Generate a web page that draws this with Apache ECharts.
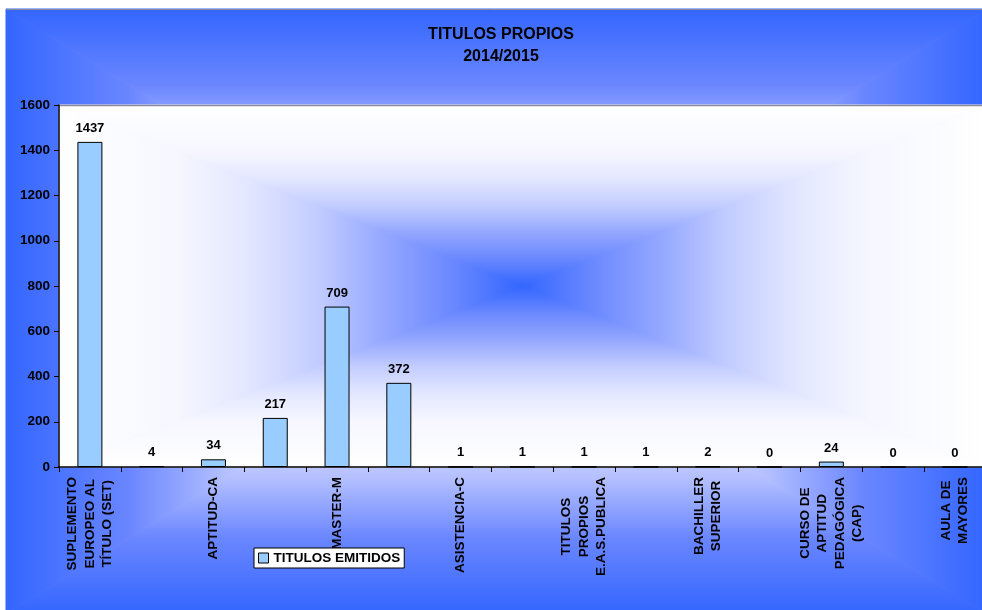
<!DOCTYPE html>
<html><head><meta charset="utf-8">
<script src="https://cdn.jsdelivr.net/npm/echarts@6/dist/echarts.min.js"></script>
<style>html,body{margin:0;padding:0;background:#fff}#c{width:982px;height:610px}</style>
</head><body><div id="c"></div>
<script>
// ---- data ----
const categories = ['SUPLEMENTO\nEUROPEO AL\nTÍTULO (SET)', '', 'APTITUD-CA', '', 'MASTER-M', '', 'ASISTENCIA-C', '',
  'TITULOS\nPROPIOS\nE.A.S.PUBLICA', '', 'BACHILLER\nSUPERIOR', '', 'CURSO DE\nAPTITUD\nPEDAGÓGICA\n(CAP)', '', 'AULA DE\nMAYORES'];
const values = [1437, 4, 34, 217, 709, 372, 1, 1, 1, 1, 2, 0, 24, 0, 0];
const seriesName = 'TITULOS EMITIDOS';
const titleText = 'TITULOS PROPIOS\n2014/2015';
const yMin = 0, yMax = 1600, yStep = 200;

// ---- layout ----
const W = 982, H = 610;
const G = {x0: 59, y0: 105, x1: 985.8, y1: 467};
const OUT = {x0: 6, y0: 9, x1: 986, y1: 614};
const FONT = '"Liberation Sans", Arial, sans-serif';

function rectGrad(r, stops, z) {
  const cx = (r.x0 + r.x1) / 2, cy = (r.y0 + r.y1) / 2;
  const mk = (pts, a, b, c, d) => {
    const g = new echarts.graphic.LinearGradient(a, b, c, d, stops, true);
    return {type: 'polygon', silent: true, z: z, shape: {points: pts},
      style: {fill: g, stroke: g, lineWidth: 1}};
  };
  return [
    mk([[r.x0, r.y0], [r.x1, r.y0], [cx, cy]], 0, r.y0, 0, cy),
    mk([[r.x0, r.y1], [r.x1, r.y1], [cx, cy]], 0, r.y1, 0, cy),
    mk([[r.x0, r.y0], [r.x0, r.y1], [cx, cy]], r.x0, 0, cx, 0),
    mk([[r.x1, r.y0], [r.x1, r.y1], [cx, cy]], r.x1, 0, cx, 0)
  ];
}
const outerStops = [
  {offset: 0, color: '#3366ff'}, {offset: 0.25, color: '#6a86ff'}, {offset: 0.45, color: '#b4c0ff'},
  {offset: 0.7, color: '#e6eaff'}, {offset: 1, color: '#ffffff'}];
const plotStops = [
  {offset: 0, color: '#ffffff'}, {offset: 0.25, color: '#f6f7ff'}, {offset: 0.4, color: '#e4e8ff'},
  {offset: 0.55, color: '#c4ceff'}, {offset: 0.7, color: '#95a8ff'}, {offset: 0.85, color: '#6a88ff'},
  {offset: 1, color: '#3366ff'}];

const chart = echarts.init(document.getElementById('c'), null, {renderer: 'canvas', width: W, height: H});
chart.setOption({
  backgroundColor: '#ffffff',
  animation: false,
  textStyle: {fontFamily: FONT},
  graphic: {elements: [].concat(
    rectGrad(OUT, outerStops, -20),
    rectGrad(G, plotStops, -10),
    [{type: 'line', silent: true, z: -5, shape: {x1: OUT.x0, y1: OUT.y0 + 0.5, x2: W, y2: OUT.y0 + 0.5}, style: {stroke: '#8a8a9a', lineWidth: 1}},
     {type: 'line', silent: true, z: -5, shape: {x1: G.x0, y1: G.y0 + 0.5, x2: W, y2: G.y0 + 0.5}, style: {stroke: '#8a8a9a', lineWidth: 1.5}}]
  )},
  title: {
    text: titleText, left: 501, top: 24, textAlign: 'center', padding: 0,
    textStyle: {fontFamily: FONT, fontWeight: 'bold', fontSize: 16, lineHeight: 22, color: '#000'}
  },
  legend: {
    data: [seriesName], left: 254, top: 548, padding: [3, 4], itemWidth: 10, itemHeight: 10,
    backgroundColor: '#ffffff', borderColor: '#000', borderWidth: 1, icon: 'rect',
    itemStyle: {borderColor: '#000', borderWidth: 1},
    textStyle: {fontFamily: FONT, fontWeight: 'bold', fontSize: 13.5, color: '#000'}
  },
  grid: {left: G.x0, top: G.y0, right: W - G.x1, bottom: H - G.y1, containLabel: false, outerBoundsMode: 'none'},
  xAxis: {
    type: 'category', data: categories, boundaryGap: true,
    axisLine: {lineStyle: {color: '#000', width: 1.5}},
    axisTick: {show: true, interval: 0, length: 5, lineStyle: {color: '#000'}},
    axisLabel: {
      interval: 1, rotate: 90, margin: 10, color: '#000',
      formatter: v => v.split('\n').map(s => '{c|' + s + '}').join('\n'),
      rich: {c: {align: 'center', fontFamily: FONT, fontWeight: 'bold', fontSize: 13.5, lineHeight: 17.5, color: '#000'}}
    },
    splitLine: {show: false}
  },
  yAxis: {
    type: 'value', min: yMin, max: yMax, interval: yStep,
    axisLine: {show: true, lineStyle: {color: '#000', width: 1.5}},
    axisTick: {show: true, length: 5, lineStyle: {color: '#000'}},
    axisLabel: {margin: 9, color: '#000', fontFamily: FONT, fontWeight: 'bold', fontSize: 13.5,
      formatter: v => String(v)},
    splitLine: {show: false}
  },
  series: [{
    name: seriesName, type: 'bar', data: values, barWidth: 25,
    itemStyle: {color: '#99ccff', borderColor: '#000', borderWidth: 1},
    label: {show: true, position: 'top', distance: 7, color: '#000', fontFamily: FONT, fontWeight: 'bold', fontSize: 13}
  }]
});
</script></body></html>
